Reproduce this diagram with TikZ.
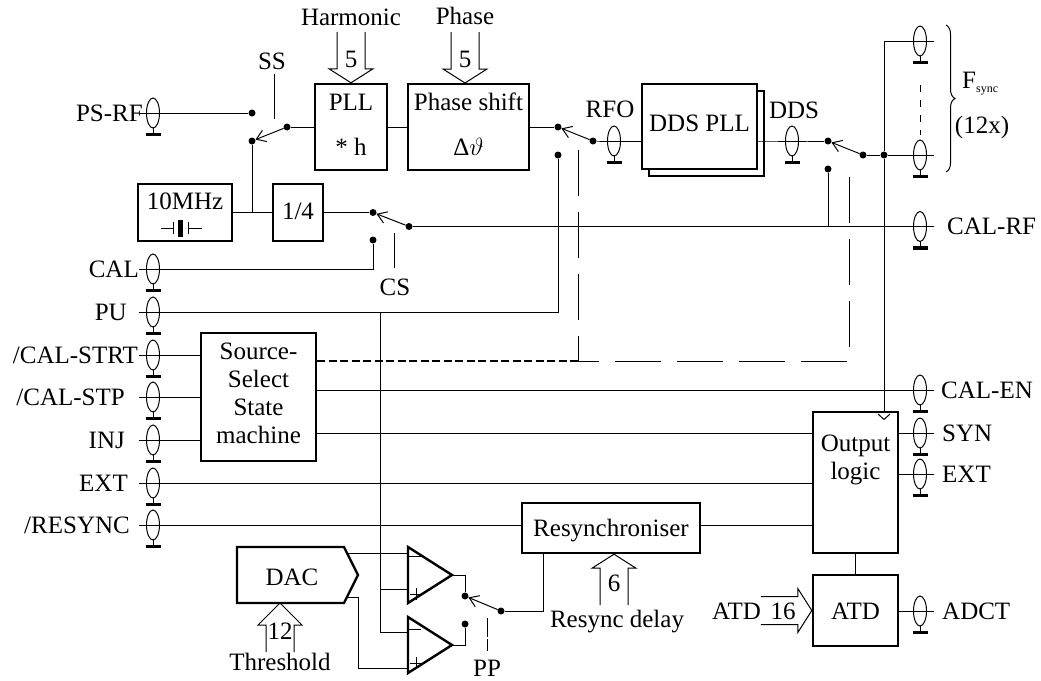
\documentclass[tikz,border=0pt]{standalone}
\usepackage{fontspec}
\setmainfont{Liberation Serif}
\usetikzlibrary{arrows.meta,decorations.pathreplacing,calc}
\begin{document}
\begin{tikzpicture}[x=1pt,y=-1pt,
  wire/.style={line width=1pt},
  box/.style={draw,line width=2.4pt,rectangle,inner sep=0pt,fill=white},
  cmp/.style={line width=2.4pt,line join=miter},
  txt/.style={inner sep=0pt,font=\fontsize{25}{30}\selectfont,text height=16.5pt,text depth=0pt},
  btxt/.style={inner sep=0pt,font=\fontsize{25}{30}\selectfont,anchor=base},
  dotn/.style={circle,fill,inner sep=0pt,minimum size=7pt},
  swarrow/.style={line width=1pt,-{Straight Barb[length=9pt,width=12pt,line width=1pt]}},
  longdash/.style={line width=1pt,dash pattern=on 46pt off 16pt},
  bolddash/.style={line width=2.6pt,dash pattern=on 8pt off 3.5pt},
  conn/.pic={
    \draw[line width=1pt] (0,0) ellipse [x radius=6.5pt, y radius=15pt];
    \draw[line width=1pt] (-14,0) -- (14,0);
    \draw[line width=1pt] (0,15) -- (0,20);
    \draw[line width=3.5pt] (-7.5,21.7) -- (7.5,21.7);
  },
  busin/.pic={
    \draw[line width=1pt] (-14,-51) -- (-14,-14) -- (-22,-14) -- (0,0) -- (22,-14) -- (14,-14) -- (14,-51);
  },
  busdeep/.pic={
    \draw[line width=1pt] (-14,-49) -- (-14,-22) -- (-22,-22) -- (0,0) -- (22,-22) -- (14,-22) -- (14,-49);
  },
]
\useasboundingbox (0,0) rectangle (1041,680);

% ---------- connectors, left ----------
\coordinate (cPSRF) at (153,113);
\coordinate (cCAL) at (153,269);
\coordinate (cPU) at (153,312);
\coordinate (cSTRT) at (153,355);
\coordinate (cSTP) at (153,397);
\coordinate (cINJ) at (153,440);
\coordinate (cEXTL) at (153,483);
\coordinate (cRES) at (153,525);
\foreach \c in {cPSRF,cCAL,cPU,cSTRT,cSTP,cINJ,cEXTL,cRES} { \pic at (\c) {conn}; }
\node[txt,anchor=east] (lPSRF) at (143,113) {PS-RF};
\node[txt,anchor=east] (lCAL) at (139,269) {CAL};
\node[txt,anchor=east] (lPU) at (127,312) {PU};
\node[txt,anchor=east] (lSTRT) at (138,355) {/CAL-STRT};
\node[txt,anchor=east] (lSTP) at (125,397) {/CAL-STP};
\node[txt,anchor=east] (lINJ) at (125,440) {INJ};
\node[txt,anchor=east] (lEXTL) at (128,483) {EXT};
\node[txt,anchor=east] (lRES) at (130,525) {/RESYNC};

% ---------- connectors, right ----------
\coordinate (cF1) at (920,41);
\coordinate (cF2) at (920,155);
\coordinate (cCALRF) at (920,226.5);
\coordinate (cCALEN) at (920,390);
\coordinate (cSYN) at (920,433);
\coordinate (cEXTR) at (920,474);
\coordinate (cADCT) at (920,611);
\coordinate (cRFO) at (614,141);
\coordinate (cDDS) at (792,141);
\foreach \c in {cF1,cF2,cCALRF,cCALEN,cSYN,cEXTR,cADCT,cRFO,cDDS} { \pic at (\c) {conn}; }
\node[txt,anchor=west] (lCALRF) at (947,226.5) {CAL-RF};
\node[txt,anchor=west] (lCALEN) at (941,390) {CAL-EN};
\node[txt,anchor=west] (lSYN) at (942,433) {SYN};
\node[txt,anchor=west] (lEXTR) at (942,474) {EXT};
\node[txt,anchor=west] (lADCT) at (942,611) {ADCT};
\node[txt] (lRFO) at (610,109) {RFO};
\node[txt] (lDDS) at (794,110) {DDS};

% F_sync group
\draw[wire,dash pattern=on 7pt off 8pt] (cF1) ++(0,44) -- ($(cF2)+(0,-20)$);
\draw[line width=1pt,decorate,decoration={brace,amplitude=9pt}] (946,25) -- (946,172);
\node[txt,anchor=west] (lF) at (962,80) {F};
\node[inner sep=0pt,anchor=west,font=\fontsize{12}{12}\selectfont] (lsync) at (976,91) {sync};
\node[txt] (l12x) at (982,125) {(12x)};

% ---------- boxes ----------
\node[box,minimum width=72,minimum height=86] (pll) at (351,127) {};
\node[txt] at (351,102.5) {PLL};
\node[txt] at (351,147) {* h};
\node[box,minimum width=121,minimum height=86] (ps) at (468.5,127) {};
\node[txt] at (468.5,102.5) {Phase shift};
\node[txt] at (468.5,147) {Δ$\vartheta$};
\node[box,minimum width=115,minimum height=85] (ddsb) at (706.5,133.5) {};
\node[box,minimum width=115,minimum height=85] (ddsf) at (699.5,126.5) {};
\node[txt] at (699.5,123.5) {DDS PLL};
\node[box,minimum width=94,minimum height=57] (osc) at (185,212.5) {};
\node[txt] at (185,201) {10MHz};
\draw[wire] (161,228) -- (173,228) (173,222) -- (173,234) (188,222) -- (188,234) (188,228) -- (202,228);
\fill (178,220) rectangle (183,237);
\node[box,minimum width=50,minimum height=57] (div) at (298,212.5) {};
\node[txt] at (298,211) {1/4};
\node[box,minimum width=115,minimum height=128] (sm) at (258.5,397) {};
\node[btxt] at (258.5,359) {Source-};
\node[btxt] at (258.5,387) {Select};
\node[btxt] at (258.5,415) {State};
\node[btxt] at (258.5,443) {machine};
\node[box,minimum width=85,minimum height=141] (olog) at (855.5,482.5) {};
\node[btxt] at (855.5,451) {Output};
\node[btxt] at (855.5,479) {logic};
\node[box,minimum width=85,minimum height=71] (atd) at (855.5,610.5) {};
\node[txt] at (855.5,611) {ATD};
\node[box,minimum width=178,minimum height=50] (rsy) at (611,528) {};
\node[txt] at (611,528) {Resynchroniser};
\draw[cmp] (237,547) -- (344,547) -- (358,575) -- (344,603) -- (237,603) -- cycle;
\node[txt] (dac) at (292,577) {DAC};
\coordinate (dacB) at (280,603);
\coordinate (dacO1) at (347,553);
\coordinate (dacO2) at (348,597);

% comparators
\draw[cmp] (408,547) -- (408,603) -- (452,575) -- cycle;
\draw[cmp] (408,617) -- (408,673) -- (452,645) -- cycle;
\coordinate (c1o) at (452,575);
\coordinate (c2o) at (452,645);
\draw[wire] (409,556) -- (421,556) (410,594) -- (422,594) (416,588) -- (416,600);
\draw[wire] (409,629) -- (421,629) (410,663) -- (422,663) (416,657) -- (416,669);

% ---------- bus inputs ----------
\pic at (pll.north) {busin};
\pic at (465,83) {busin};
\node[txt] at (351,17) {Harmonic};
\node[txt] at (465,16) {Phase};
\node[txt] at (351,59) {5};
\node[txt] at (465,59) {5};
\pic[rotate=180] at (rsy.south -| 614,0) {busin};
\node[txt] at (614,583) {6};
\node[btxt] at (617,627) {Resync delay};
\pic[rotate=180] at (dacB) {busdeep};
\node[txt] at (280,631) {12};
\node[txt] at (280,662) {Threshold};
\pic[rotate=90] at (atd.west) {busin};
\node[txt] at (783,611) {16};
\node[txt,anchor=east] at (761,611) {ATD};

% ---------- SS switch ----------
\node[dotn] (ssA) at (252,113) {};
\node[dotn] (ssB) at (252,141) {};
\node[dotn] (ssP) at (287,127) {};
\draw[wire] (cPSRF) -- (ssA);
\draw[swarrow] (ssP) -- (ssB);
\draw[wire] (ssP) -- (pll);
\draw[wire] (ssB) -- (ssB |- osc.east);
\draw[wire] (274,74) -- (274,119);
\node[txt] (lSS) at (272,61) {SS};
\draw[wire] (osc) -- (div);

% ---------- CS switch ----------
\node[dotn] (csA) at (373,212.5) {};
\node[dotn] (csB) at (373,240) {};
\node[dotn] (csP) at (409,226.5) {};
\draw[wire] (div) -- (csA);
\draw[swarrow] (csP) -- (csA);
\draw[wire] (csP) -- (cCALRF);
\draw[wire] (cCAL) -| (csB);
\draw[wire] (394,233) -- (394,268);
\node[txt] (lCS) at (395,287) {CS};

% ---------- RFO switch ----------
\draw[wire] (pll) -- (ps);
\node[dotn] (rfA) at (558,127) {};
\node[dotn] (rfB) at (558,155) {};
\node[dotn] (rfP) at (593,141) {};
\draw[wire] (ps) -- (rfA);
\draw[swarrow] (rfP) -- (rfA);
\draw[wire] (rfP) -- (cRFO) -- (cRFO -| ddsf.west);
\draw[wire] (cPU) -| (rfB);

% ---------- DDS switch ----------
\node[dotn] (ddA) at (828,141) {};
\node[dotn] (ddB) at (828,169) {};
\node[dotn] (ddP) at (863,155) {};
\node[dotn] (jn) at (884,155) {};
\draw[wire] (cDDS -| ddsf.east) -- (cDDS) -- (ddA);
\draw[swarrow] (ddP) -- (ddA);
\draw[wire] (ddP) -- (jn) -- (cF2);
\draw[wire] (jn) |- (cF1);
\draw[wire] (jn) -- (jn |- olog.north);
\draw[wire] (878,414) -- (884,419.5) -- (890,414);
\draw[wire] (ddB) -- (ddB |- cCALRF);

% ---------- mode select dashed ----------
\coordinate (dsh) at (578,361);
\draw[bolddash] (dsh -| sm.east) -- (dsh);
\draw[longdash] (578,150) -- (dsh) -- (849,361) -- (849,163);

% ---------- state machine wiring ----------
\draw[wire] (cSTRT) -- (cSTRT -| sm.west);
\draw[wire] (cSTP) -- (cSTP -| sm.west);
\draw[wire] (cINJ) -- (cINJ -| sm.west);
\draw[wire] (sm.east |- cCALEN) -- (cCALEN);
\draw[wire] (sm.east |- cSYN) -- (cSYN -| olog.west);
\draw[wire] (cEXTL) -- (cEXTL -| olog.west);
\draw[wire] (cRES) -- (cRES -| rsy.west);
\draw[wire] (cRES -| rsy.east) -- (cRES -| olog.west);
\draw[wire] (cSYN -| olog.east) -- (cSYN);
\draw[wire] (cEXTR -| olog.east) -- (cEXTR);
\draw[wire] (olog.south) -- (atd.north);
\draw[wire] (cADCT -| atd.east) -- (cADCT);

% ---------- threshold comparators ----------
\coordinate (puj) at (380,312);
\draw[wire] (puj) -- (380,632) -- (408,632);
\draw[wire] (380,589) -- (408,589);
\draw[wire] (dacO1) -- (408,553);
\draw[wire] (dacO2) -- (358,597) -- (358,668) -- (408,668);
\node[dotn] (ppA) at (465,596) {};
\node[dotn] (ppB) at (465,624) {};
\node[dotn] (ppP) at (501,611) {};
\draw[wire] (c1o) -| (ppA);
\draw[wire] (c2o) -| (ppB);
\draw[swarrow] (ppP) -- (ppA);
\coordinate (rsyin) at (543,553);
\draw[wire] (ppP) -| (rsyin);
\draw[wire,dash pattern=on 19pt off 2pt] (487,618) -- (487,651);
\node[txt] (lPP) at (487,668) {PP};
\end{tikzpicture}
\end{document}
